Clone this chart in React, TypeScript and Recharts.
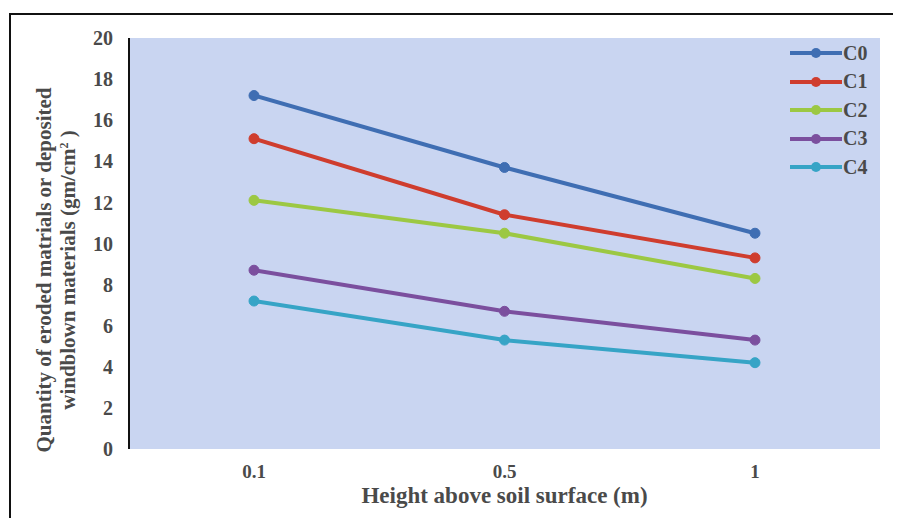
import React from "react";
import {
  LineChart,
  Line,
  XAxis,
  YAxis,
  CartesianGrid,
} from "recharts";

const heights = ["0.1", "0.5", "1"];
const c0 = [17.2, 13.7, 10.5];
const c1 = [15.1, 11.4, 9.3];
const c2 = [12.1, 10.5, 8.3];
const c3 = [8.7, 6.7, 5.3];
const c4 = [7.2, 5.3, 4.2];
const yTicks = [0, 2, 4, 6, 8, 10, 12, 14, 16, 18, 20];

const series = [
  { key: "C0", color: "#3f6eb3" },
  { key: "C1", color: "#cf3d2e" },
  { key: "C2", color: "#9cc843" },
  { key: "C3", color: "#7b4f9e" },
  { key: "C4", color: "#36a4c6" },
];

const data = heights.map((h, i) => ({
  h,
  C0: c0[i],
  C1: c1[i],
  C2: c2[i],
  C3: c3[i],
  C4: c4[i],
}));

const font = "'Liberation Serif', 'Times New Roman', serif";
const textColor = "#4a4a4a";

// legend drawn outside the chart so it doesn't eat plot width
function LegendBox() {
  return (
    <div
      style={{
        position: "absolute",
        left: 782,
        top: 31,
        fontFamily: font,
        fontWeight: "bold",
        fontSize: 20,
        color: textColor,
      }}
    >
      {series.map((s) => (
        <div key={s.key} style={{ display: "flex", alignItems: "center", height: 28.5 }}>
          <svg width={52} height={14}>
            <line x1={0} y1={7} x2={52} y2={7} stroke={s.color} strokeWidth={4} />
            <circle cx={26} cy={7} r={5} fill={s.color} />
          </svg>
          <span style={{ marginLeft: 1 }}>{s.key}</span>
        </div>
      ))}
    </div>
  );
}

function YLabel() {
  return (
    <text
      transform="translate(43 262) rotate(-90)"
      textAnchor="middle"
      fontFamily={font}
      fontWeight="bold"
      fontSize={21}
      fill={textColor}
    >
      <tspan x={0} dy={0}>Quantity of eroded matrials or deposited</tspan>
      <tspan x={0} dy={24}>
        windblown materials (gm/cm
        <tspan baselineShift="super" fontSize={12}>2</tspan>
        <tspan> )</tspan>
      </tspan>
    </text>
  );
}

export default function App() {
  return (
    <div style={{ position: "relative", width: 893, height: 510, overflow: "hidden", background: "#fff" }}>
      <div
        style={{
          position: "absolute",
          left: 1,
          top: 5,
          width: 920,
          height: 540,
          border: "2px solid #111",
          boxSizing: "border-box",
        }}
      />
      <LineChart
        width={893}
        height={510}
        data={data}
        margin={{ top: 30, right: 21, left: 0, bottom: 0 }}
        style={{ position: "absolute", left: 0, top: 0 }}
      >
        <CartesianGrid fill="#c9d5f1" horizontal={false} vertical={false} />
        <XAxis
          dataKey="h"
          height={69}
          padding={{ left: 125, right: 125 }}
          tickSize={0}
          tickMargin={16}
          axisLine={false}
          tick={{ fontFamily: font, fontWeight: "bold", fontSize: 19, fill: textColor }}
          label={{
            value: "Height above soil surface (m)",
            position: "insideBottom",
            offset: 15,
            style: { fontFamily: font, fontWeight: "bold", fontSize: 23, fill: textColor },
          }}
        />
        <XAxis xAxisId="top" dataKey="h" orientation="top" height={0} tick={false} tickLine={false} axisLine={{ stroke: "#111", strokeWidth: 2 }} />
        <YAxis
          width={121}
          domain={[0, 20]}
          ticks={yTicks}
          tickSize={0}
          tickMargin={16}
          axisLine={{ stroke: "#111", strokeWidth: 2 }}
          tick={{ fontFamily: font, fontWeight: "bold", fontSize: 20, fill: textColor }}
        />
        <YAxis yAxisId="r" orientation="right" width={0} domain={[0, 20]} tick={false} tickLine={false} axisLine={{ stroke: "#111", strokeWidth: 2 }} />
        {series.map((s) => (
          <Line
            key={s.key}
            dataKey={s.key}
            stroke={s.color}
            strokeWidth={4}
            dot={{ r: 5, fill: s.color, stroke: s.color, strokeWidth: 1 }}
            isAnimationActive={false}
          />
        ))}
        <YLabel />
      </LineChart>
      <LegendBox />
    </div>
  );
}
